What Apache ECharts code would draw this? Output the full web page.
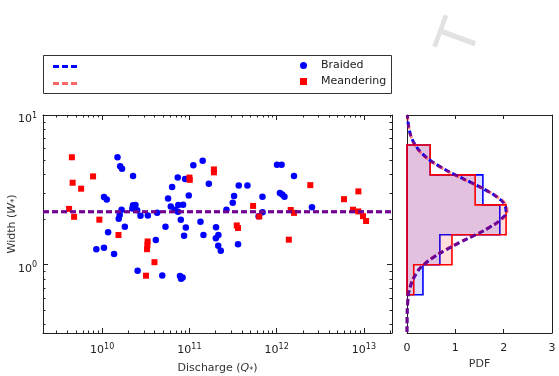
<!DOCTYPE html>
<html>
<head>
<meta charset="utf-8">
<script src="https://cdn.jsdelivr.net/npm/echarts@6/dist/echarts.min.js"></script>
<style>
  html, body { margin: 0; padding: 0; background: #fff; }
  #chart { width: 559px; height: 376px; }
</style>
</head>
<body>
<div id="chart"></div>
<script>
// scatter points: [discharge Q*, width W*]
var braided = [
    [1.50e10, 5.22], [1.61e10, 4.55], [1.69e10, 4.37], [2.26e10, 3.92], [1.05e10, 2.83],
    [1.13e10, 2.73], [1.67e10, 2.33], [1.59e10, 2.15], [1.55e10, 2.03], [2.26e10, 2.50],
    [2.41e10, 2.51], [2.22e10, 2.37], [2.52e10, 2.31], [2.75e10, 2.12], [3.34e10, 2.13],
    [4.27e10, 2.22], [1.82e10, 1.79], [1.17e10, 1.65], [5.32e10, 1.79], [5.70e10, 2.77],
    [6.34e10, 3.31], [7.36e10, 3.83], [8.93e10, 3.74], [1.11e11, 4.62], [1.42e11, 4.94],
    [1.67e11, 3.47], [9.84e10, 2.90], [6.12e10, 2.45], [6.80e10, 2.33], [7.46e10, 2.51],
    [8.47e10, 2.52], [7.40e10, 2.26], [7.97e10, 2.00], [1.34e11, 1.94], [2.02e11, 1.78],
    [9.10e10, 1.77], [8.69e10, 1.56], [1.45e11, 1.58], [2.01e11, 1.50], [2.15e11, 1.58],
    [4.12e10, 1.46], [8.58e9, 1.27], [1.05e10, 1.30], [1.37e10, 1.18], [2.55e10, 0.912],
    [4.89e10, 0.849], [7.80e10, 0.841], [8.36e10, 0.823], [8.03e10, 0.807], [2.14e11, 1.34],
    [2.29e11, 1.24], [3.61e11, 1.37], [2.66e11, 2.33], [3.14e11, 2.59], [3.25e11, 2.88],
    [3.68e11, 3.38], [4.63e11, 3.38], [6.88e11, 2.85], [1.01e12, 4.66], [1.14e12, 4.66],
    [1.58e12, 3.92], [1.09e12, 3.01], [1.16e12, 2.94], [1.23e12, 2.85], [2.54e12, 2.42],
    [6.21e11, 2.11], [6.90e11, 2.24]
];
var meandering = [
    [4.50e9, 5.22], [4.59e9, 3.53], [5.75e9, 3.22], [7.87e9, 3.89], [4.18e9, 2.36],
    [4.77e9, 2.09], [9.29e9, 2.00], [1.54e10, 1.58], [3.32e10, 1.43], [3.30e10, 1.35],
    [3.27e10, 1.27], [3.98e10, 1.04], [3.18e10, 0.845], [1.00e11, 3.82], [1.01e11, 3.69],
    [1.91e11, 4.33], [1.91e11, 4.14], [3.49e11, 1.83], [3.61e11, 1.76], [5.37e11, 2.47],
    [6.32e11, 2.10], [1.45e12, 2.32], [1.58e12, 2.22], [1.38e12, 1.47], [2.43e12, 3.40],
    [5.92e12, 2.74], [8.65e12, 3.09], [7.50e12, 2.33], [8.65e12, 2.27], [9.77e12, 2.11],
    [1.06e13, 1.96]
];

// mean widths (dashed horizontal lines)
var braidedMean = 2.26;
var meanderingMean = 2.26;

// histogram of log10(W*): bin edges and PDF heights
var binEdges = [-0.2, 0, 0.2, 0.4, 0.6, 0.8];
var braidedPdf = [0.33, 0.68, 1.92, 1.57, 0.48];
var meanderingPdf = [0.14, 0.93, 2.05, 1.41, 0.48];

// fitted normal curves: log10(W*) vs PDF
var curveLogW = [-0.45, -0.35, -0.25, -0.15, -0.05, 0.0, 0.05, 0.10, 0.15, 0.20, 0.25, 0.30, 0.355,
    0.40, 0.45, 0.50, 0.55, 0.60, 0.65, 0.70, 0.75, 0.80, 0.85, 0.90, 0.95, 1.0];
var braidedCurve = [0.0003, 0.003, 0.015, 0.065, 0.21, 0.35, 0.55, 0.81, 1.10, 1.42, 1.71, 1.93, 2.05,
    2.02, 1.87, 1.62, 1.32, 1.00, 0.71, 0.47, 0.29, 0.17, 0.093, 0.048, 0.023, 0.008];
var meanderingCurve = [0.0003, 0.003, 0.014, 0.062, 0.20, 0.34, 0.54, 0.80, 1.09, 1.41, 1.71, 1.94, 2.07,
    2.04, 1.88, 1.62, 1.31, 0.99, 0.70, 0.46, 0.28, 0.16, 0.090, 0.046, 0.022, 0.007];

// axis ticks (powers of ten)
var xMajor = [10, 11, 12, 13];
var yMajor = [0, 1];
var pdfTicks = [0, 1, 2, 3];

var xLo = Math.log10(2.1e9), xHi = Math.log10(2.1e13);
var yLo = Math.log10(0.35), yHi = 1;
var FONT = 'DejaVu Sans';
var BLUE = '#0000ff', RED = '#ff0000';
// three short dashes, used as legend icon of the dashed lines
var DASH_ICON = 'path://M0,0h6v3h-6z M9,0h6v3h-6z M18,0h6v3h-6z';

function minorTicks(lo, hi) {
    var out = [];
    for (var n = Math.floor(lo) - 1; n <= Math.ceil(hi); n++) {
        for (var k = 2; k < 10; k++) {
            var v = n + Math.log10(k);
            if (v > lo && v < hi) out.push(v);
        }
    }
    return out;
}

function toLog(pts) {
    return pts.map(function (p) { return [Math.log10(p[0]), Math.log10(p[1])]; });
}

// 10^n labels: base digits plus a raised exponent
var supRich = {
    b: { fontSize: 11, fontFamily: FONT, color: '#222', lineHeight: 13, verticalAlign: 'bottom' },
    s: { fontSize: 8, fontFamily: FONT, color: '#222', lineHeight: 8, verticalAlign: 'top' }
};
var powLabel = function (v) { return '{b|10}{s|' + Math.round(v) + '}'; };
var nameRich = {
    i: { fontStyle: 'italic', fontSize: 11, fontFamily: FONT, color: '#333' },
    sub: { fontSize: 8, fontFamily: FONT, color: '#333', lineHeight: 8, verticalAlign: 'bottom' }
};

var frameLine = { show: true, onZero: false, lineStyle: { color: '#222', width: 1 } };

function axis(base, opts) {
    var a = {
        type: 'value', gridIndex: base.grid, position: base.pos, min: base.min, max: base.max,
        splitLine: { show: false },
        axisLine: base.line ? frameLine : { show: false, onZero: false },
        axisTick: { show: !!base.ticks, inside: true, length: base.len || 4,
            customValues: base.ticks, lineStyle: { color: '#222', width: 1 } },
        axisLabel: { show: false }
    };
    return Object.assign(a, opts || {});
}

function stepPolygon(pdf) {
    var pts = [[0, binEdges[0]]];
    for (var i = 0; i < pdf.length; i++) {
        pts.push([pdf[i], binEdges[i]]);
        pts.push([pdf[i], binEdges[i + 1]]);
    }
    pts.push([0, binEdges[binEdges.length - 1]]);
    return pts;
}

function histSeries(name, pdf, color, fill, z) {
    var poly = stepPolygon(pdf);
    return {
        name: name, type: 'custom', xAxisIndex: 4, yAxisIndex: 4, z: z,
        data: [[0, 0]],
        renderItem: function (params, api) {
            return {
                type: 'polygon',
                shape: { points: poly.map(function (p) { return api.coord(p); }) },
                style: { fill: fill, stroke: color, lineWidth: 1.6 }
            };
        }
    };
}

var chart = echarts.init(document.getElementById('chart'));

var option = {
    animation: false,
    backgroundColor: '#fff',
    grid: [
        { left: 43, top: 115, width: 349, height: 218, containLabel: false, outerBoundsMode: 'none' },
        { left: 407, top: 115, width: 145, height: 218, containLabel: false, outerBoundsMode: 'none' }
    ],
    xAxis: [
        axis({ grid: 0, pos: 'bottom', min: xLo, max: xHi, line: true, ticks: xMajor, len: 5 }, {
            axisLabel: { show: true, customValues: xMajor, margin: 10, formatter: powLabel, rich: supRich },
            name: 'Discharge ({i|Q}{sub|*})', nameLocation: 'middle', nameGap: 23,
            nameTextStyle: { fontSize: 11, fontFamily: FONT, color: '#333', lineHeight: 14, rich: nameRich }
        }),
        axis({ grid: 0, pos: 'bottom', min: xLo, max: xHi, ticks: minorTicks(xLo, xHi), len: 2.5 }),
        axis({ grid: 0, pos: 'top', min: xLo, max: xHi, line: true, ticks: xMajor, len: 5 }),
        axis({ grid: 0, pos: 'top', min: xLo, max: xHi, ticks: minorTicks(xLo, xHi), len: 2.5 }),
        axis({ grid: 1, pos: 'bottom', min: 0, max: 3, line: true, ticks: pdfTicks, len: 4 }, {
            axisLabel: { show: true, customValues: pdfTicks, margin: 10, fontSize: 11, fontFamily: FONT, color: '#222' },
            name: 'PDF', nameLocation: 'middle', nameGap: 26,
            nameTextStyle: { fontSize: 11, fontFamily: FONT, color: '#333' }
        }),
        axis({ grid: 1, pos: 'top', min: 0, max: 3, line: true, ticks: pdfTicks, len: 4 })
    ],
    yAxis: [
        axis({ grid: 0, pos: 'left', min: yLo, max: yHi, line: true, ticks: yMajor, len: 5 }, {
            axisLabel: { show: true, customValues: yMajor, margin: 6, padding: [6, 0, 0, 0],
                formatter: powLabel, rich: supRich },
            name: 'Width ({i|W}{sub|*})', nameLocation: 'middle', nameGap: 24, nameRotate: 90,
            nameMoveOverlap: false,
            nameTextStyle: { fontSize: 11, fontFamily: FONT, color: '#333', lineHeight: 14, rich: nameRich }
        }),
        axis({ grid: 0, pos: 'left', min: yLo, max: yHi, ticks: minorTicks(yLo, yHi), len: 2.5 }),
        axis({ grid: 0, pos: 'right', min: yLo, max: yHi, line: true, ticks: yMajor, len: 5 }),
        axis({ grid: 0, pos: 'right', min: yLo, max: yHi, ticks: minorTicks(yLo, yHi), len: 2.5 }),
        axis({ grid: 1, pos: 'left', min: yLo, max: yHi, line: true }),
        axis({ grid: 1, pos: 'right', min: yLo, max: yHi, line: true })
    ],
    legend: [
        {
            data: [{ name: 'Braided fit', icon: DASH_ICON }, { name: 'Meandering fit', icon: DASH_ICON }],
            orient: 'vertical', left: 48, top: 60,
            itemWidth: 24, itemHeight: 3, itemGap: 14, formatter: function () { return ''; },
            selectedMode: false
        },
        {
            data: [{ name: 'Braided', icon: 'circle' }, { name: 'Meandering', icon: 'rect' }],
            orient: 'vertical', left: 295, top: 55, itemWidth: 7, itemHeight: 7, itemGap: 5,
            selectedMode: false,
            textStyle: { fontSize: 11, fontFamily: FONT, color: '#222', padding: [0, 0, 0, 9] }
        }
    ],
    graphic: [
        { type: 'rect', shape: { x: 43.5, y: 55.5, width: 348, height: 38 },
          style: { fill: 'none', stroke: '#333', lineWidth: 1 }, z: 1 },
        // faint watermark letter of the source page
        { type: 'text', x: 462, y: 39, rotation: 1.22, z: 0,
          style: { text: 'T', fontSize: 54, fontFamily: FONT, fill: '#e2e2e2', align: 'center', verticalAlign: 'middle' } }
    ],
    series: [
        histSeries('Braided hist', braidedPdf, BLUE, 'rgba(0,0,255,0.13)', 2),
        histSeries('Meandering hist', meanderingPdf, RED, 'rgba(255,0,0,0.13)', 3),
        {
            name: 'Braided', type: 'scatter', xAxisIndex: 0, yAxisIndex: 0, z: 3,
            symbol: 'circle', symbolSize: 6.5, itemStyle: { color: BLUE, opacity: 1 },
            data: toLog(braided)
        },
        {
            name: 'Meandering', type: 'scatter', xAxisIndex: 0, yAxisIndex: 0, z: 4,
            symbol: 'rect', symbolSize: 6, itemStyle: { color: RED, opacity: 1 },
            data: toLog(meandering)
        },
        {
            name: 'Braided fit', type: 'line', xAxisIndex: 0, yAxisIndex: 0, z: 5,
            symbol: 'none', itemStyle: { color: BLUE },
            lineStyle: { color: BLUE, width: 3, type: [6, 3] },
            data: [[xLo, Math.log10(braidedMean)], [xHi, Math.log10(braidedMean)]]
        },
        {
            name: 'Meandering fit', type: 'line', xAxisIndex: 0, yAxisIndex: 0, z: 6,
            symbol: 'none', itemStyle: { color: 'rgba(255,0,0,0.6)' },
            lineStyle: { color: RED, width: 3, type: [6, 3], opacity: 0.45 },
            data: [[xLo, Math.log10(meanderingMean)], [xHi, Math.log10(meanderingMean)]]
        },
        {
            name: 'Braided fit', type: 'line', xAxisIndex: 4, yAxisIndex: 4, z: 5,
            symbol: 'none', smooth: true, itemStyle: { color: BLUE },
            lineStyle: { color: BLUE, width: 3, type: [6, 3] },
            data: curveLogW.map(function (w, i) { return [braidedCurve[i], w]; })
        },
        {
            name: 'Meandering fit', type: 'line', xAxisIndex: 4, yAxisIndex: 4, z: 6,
            symbol: 'none', smooth: true, itemStyle: { color: 'rgba(255,0,0,0.6)' },
            lineStyle: { color: RED, width: 3, type: [6, 3], opacity: 0.45 },
            data: curveLogW.map(function (w, i) { return [meanderingCurve[i], w]; })
        }
    ]
};

chart.setOption(option);
</script>
</body>
</html>
